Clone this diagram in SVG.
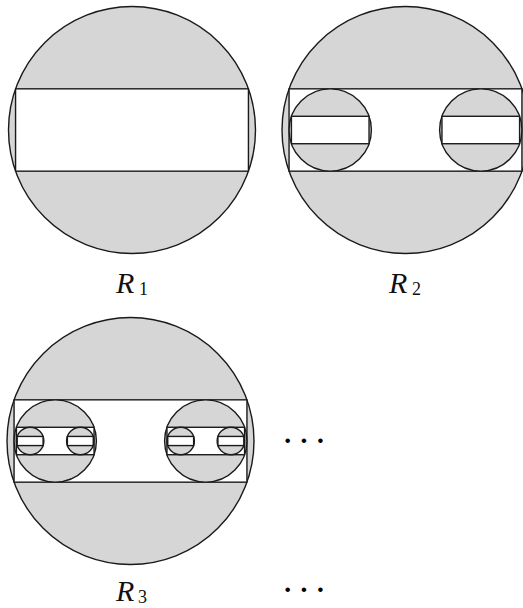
<svg xmlns="http://www.w3.org/2000/svg" width="523" height="608" viewBox="0 0 523 608">
<style>
  .c { fill: #d6d6d6; stroke: #1a1a1a; stroke-width: 1.4; }
  .r { fill: #ffffff; stroke: #1a1a1a; stroke-width: 1.4; }
  .lbl { font-family: "Liberation Serif", "DejaVu Serif", serif; font-style: italic; font-size: 30px; fill: #111; }
  .sub { font-style: normal; font-size: 18px; }
  .dots { font-family: "Liberation Serif", "DejaVu Serif", serif; font-size: 28px; font-weight: bold; fill: #000; }
</style>
<rect width="523" height="608" fill="#ffffff"/>
<g id="R1">
  <circle class="c" cx="132" cy="130" r="123.5"/>
  <rect class="r" x="15.56" y="88.83" width="232.88" height="82.34"/>
</g>
<g id="R2">
  <circle class="c" cx="405.5" cy="130" r="123.5"/>
  <rect class="r" x="289.06" y="88.83" width="232.88" height="82.34"/>
  <circle class="c" cx="330.23" cy="130" r="41.17"/>
  <rect class="r" x="291.42" y="116.28" width="77.62" height="27.44"/>
  <circle class="c" cx="480.77" cy="130" r="41.17"/>
  <rect class="r" x="441.96" y="116.28" width="77.62" height="27.44"/>
</g>
<g id="R3">
  <circle class="c" cx="130.5" cy="441" r="123.5"/>
  <rect class="r" x="14.06" y="399.83" width="232.88" height="82.34"/>
  <circle class="c" cx="55.23" cy="441" r="41.17"/>
  <rect class="r" x="16.42" y="427.28" width="77.62" height="27.44"/>
  <circle class="c" cx="30.14" cy="441" r="13.72"/>
  <rect class="r" x="17.2" y="436.43" width="25.88" height="9.14"/>
  <circle class="c" cx="80.32" cy="441" r="13.72"/>
  <rect class="r" x="67.38" y="436.43" width="25.88" height="9.14"/>
  <circle class="c" cx="205.77" cy="441" r="41.17"/>
  <rect class="r" x="166.96" y="427.28" width="77.62" height="27.44"/>
  <circle class="c" cx="180.68" cy="441" r="13.72"/>
  <rect class="r" x="167.74" y="436.43" width="25.88" height="9.14"/>
  <circle class="c" cx="230.86" cy="441" r="13.72"/>
  <rect class="r" x="217.92" y="436.43" width="25.88" height="9.14"/>
</g>
<g id="labels">
  <text class="lbl" x="116" y="293">R<tspan class="sub" x="139" y="295">1</tspan></text>
  <text class="lbl" x="389" y="293">R<tspan class="sub" x="412" y="295">2</tspan></text>
  <text class="lbl" x="116" y="601">R<tspan class="sub" x="138" y="603">3</tspan></text>
  <text class="dots" x="304" y="450" text-anchor="middle">· · ·</text>
  <text class="dots" x="304" y="599" text-anchor="middle">· · ·</text>
</g>
</svg>
